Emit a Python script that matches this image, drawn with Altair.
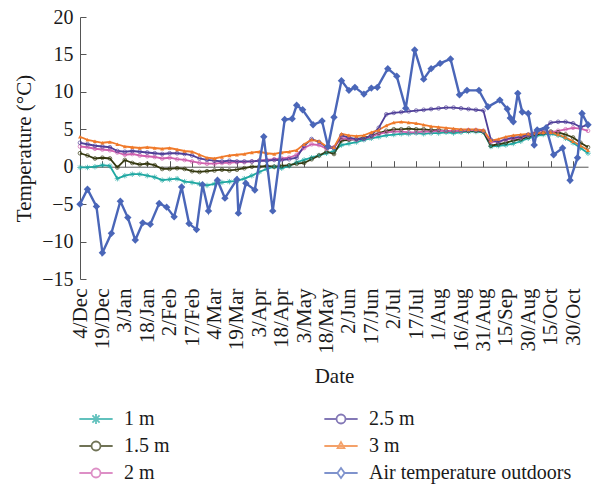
import json
import altair as alt
import pandas as pd

# ---------------- data ----------------
date_labels = ["4/Dec", "19/Dec", "3/Jan", "18/Jan", "2/Feb", "17/Feb", "4/Mar",
               "19/Mar", "3/Apr", "18/Apr", "3/May", "18/May", "2/Jun", "17/Jun",
               "2/Jul", "17/Jul", "1/Aug", "16/Aug", "31/Aug", "15/Sep", "30/Aug",
               "15/Oct", "30/Oct"]
label_days = [0, 15, 30, 45, 60, 75, 90, 105, 120, 135, 150, 165, 180, 195, 210,
              225, 240, 255, 270, 285, 300, 315, 330]
y_ticks = [-15, -10, -5, 0, 5, 10, 15, 20]

soil_days = [0, 5, 10, 15, 20, 25, 30, 35, 40, 45, 50, 55, 60, 65, 70, 75, 80, 85,
             90, 95, 100, 105, 110, 115, 120, 125, 130, 135, 140, 145, 150, 155,
             160, 165, 170, 175, 180, 185, 190, 195, 200, 205, 210, 215, 220, 225,
             230, 235, 240, 245, 250, 255, 260, 265, 270, 275, 280, 285, 290, 295,
             300, 305, 310, 315, 320, 325, 330, 335, 340]

t_1m = [-0.1, -0.1, 0.0, 0.2, 0.1, -1.6, -1.2, -1.0, -1.0, -1.2,
        -1.4, -1.8, -1.7, -1.6, -2.0, -2.1, -2.3, -2.5, -2.3, -2.1,
        -2.0, -1.9, -1.6, -1.2, -0.7, -0.3, 0.0, -0.2, 0.1, 0.6,
        0.9, 1.2, 1.5, 1.8, 2.1, 2.9, 3.1, 3.3, 3.6, 3.8,
        4.0, 4.2, 4.3, 4.4, 4.4, 4.5, 4.4, 4.5, 4.5, 4.6,
        4.5, 4.6, 4.7, 4.7, 4.6, 2.7, 2.8, 2.9, 3.1, 3.4,
        3.8, 4.1, 4.3, 4.4, 4.2, 3.8, 3.2, 2.5, 1.8]
t_15m = [1.8, 1.5, 1.1, 1.2, 1.1, -0.1, 0.9, 0.5, 0.3, 0.4,
         0.2, -0.3, -0.3, -0.2, -0.3, -0.6, -0.7, -0.6, -0.5, -0.4,
         -0.5, -0.4, -0.2, 0.0, 0.0, 0.1, 0.0, 0.1, 0.2, 0.4,
         0.5, 1.0, 1.5, 2.0, 1.7, 3.5, 3.6, 3.7, 3.9, 4.1,
         4.5, 4.8, 5.0, 5.0, 5.1, 5.0, 5.0, 4.9, 4.9, 4.8,
         4.8, 4.8, 4.8, 4.8, 4.7, 2.8, 3.0, 3.2, 3.5, 3.7,
         4.0, 4.3, 4.5, 4.7, 4.6, 4.3, 3.9, 3.2, 2.6]
t_2m = [2.7, 2.6, 2.4, 2.3, 2.2, 1.9, 1.6, 1.7, 1.5, 1.4,
        1.3, 1.1, 1.2, 1.0, 0.9, 0.7, 0.5, 0.4, 0.4, 0.5,
        0.5, 0.6, 0.6, 0.7, 0.8, 0.9, 1.0, 1.1, 1.2, 1.6,
        2.5, 3.0, 2.9, 2.4, 2.6, 3.8, 3.7, 3.6, 3.8, 4.0,
        4.4, 4.6, 4.7, 4.7, 4.6, 4.6, 4.7, 4.7, 4.8, 4.8,
        4.8, 4.8, 4.9, 4.9, 4.8, 3.3, 3.4, 3.6, 3.8, 3.9,
        4.2, 4.5, 4.6, 4.6, 4.8, 5.0, 5.2, 5.1, 4.8]
t_25m = [3.2, 3.0, 2.8, 2.7, 2.6, 2.1, 2.0, 2.1, 2.0, 1.9,
         1.8, 1.7, 1.8, 1.8, 1.7, 1.5, 1.1, 0.9, 0.8, 0.7,
         0.8, 0.7, 0.7, 0.7, 0.8, 0.8, 0.9, 0.9, 1.0, 1.2,
         2.8, 3.7, 3.3, 2.6, 2.5, 4.2, 3.9, 3.7, 3.7, 4.2,
         5.2, 7.0, 7.2, 7.3, 7.4, 7.5, 7.6, 7.7, 7.8, 7.9,
         7.9, 7.8, 7.7, 7.6, 7.5, 3.6, 3.3, 3.7, 3.9, 4.0,
         4.3, 4.6, 5.0, 5.9, 6.0, 6.0, 5.8, 5.3, 5.6]
t_3m = [4.0, 3.6, 3.4, 3.2, 3.3, 3.0, 2.7, 2.6, 2.5, 2.6,
        2.5, 2.4, 2.5, 2.3, 2.1, 2.0, 1.6, 1.2, 1.1, 1.3,
        1.5, 1.6, 1.7, 1.9, 2.0, 1.8, 1.7, 1.9, 2.0, 2.2,
        3.0, 3.6, 3.4, 2.7, 2.6, 4.4, 4.2, 4.1, 4.2, 4.6,
        4.9, 5.5, 5.9, 6.0, 5.9, 5.8, 5.6, 5.4, 5.3, 5.2,
        5.1, 5.0, 5.0, 5.0, 4.9, 3.5, 3.7, 4.0, 4.2, 4.3,
        4.4, 4.5, 4.6, 4.6, 4.3, 3.9, 3.4, 2.8, 2.2]

air_days = [0, 5, 11, 15, 21, 27, 32, 37, 42, 47,
            53, 58, 63, 68, 73, 78, 82, 86, 92, 97,
            105, 106, 111, 117, 123, 129, 137, 142, 145, 149,
            156, 162, 166, 170, 175, 180, 184, 190, 195, 199,
            206, 212, 218, 224, 230, 235, 241, 248, 254, 259,
            267, 273, 281, 286, 288, 290, 293, 296, 300, 304,
            306, 312, 317, 323, 328, 333, 336, 340]
air_temp = [-5.0, -3.0, -5.3, -11.5, -8.9, -4.6, -6.8, -9.8, -7.5, -7.7,
            -4.9, -5.4, -6.7, -2.7, -7.6, -8.4, -2.4, -5.9, -1.8, -4.2,
            -1.7, -6.2, -2.2, -3.1, 4.0, -5.9, 6.3, 6.4, 8.2, 7.6,
            5.6, 6.1, 2.7, 6.6, 11.5, 10.2, 10.6, 9.7, 10.5, 10.6,
            13.1, 12.1, 7.8, 15.6, 11.7, 13.1, 13.8, 14.4, 9.6, 10.2,
            10.2, 8.0, 8.9, 7.7, 6.5, 6.0, 9.8, 7.3, 7.1, 2.9,
            4.9, 5.2, 1.6, 2.5, -1.8, 1.2, 7.1, 5.6]

AIR = "Air temperature outdoors"
series_names = ["1 m", "1.5 m", "2 m", "2.5 m", "3 m", AIR]
series_colors = ["#1fa8a2", "#34380f", "#d060ae", "#4f3f98", "#f07a2a", "#4a66b8"]
soil_series = series_names[:5]
soil_values = [t_1m, t_15m, t_2m, t_25m, t_3m]

rows = []
for name, vals in zip(soil_series, soil_values):
    for d, v in zip(soil_days, vals):
        rows.append({"day": d, "value": v, "series": name})
for d, v in zip(air_days, air_temp):
    rows.append({"day": d, "value": v, "series": AIR})
df = pd.DataFrame(rows)

# ---------------- styling ----------------
FONT = "Liberation Serif"
W, H = 508, 262
Y0_OFFSET = -H * 20 / 35  # pixel distance of y = 0 from the top

AST_SMALL = "M-1,0H1M0,-1V1M-0.7,-0.7L0.7,0.7M-0.7,0.7L0.7,-0.7"
LEG_AST = "M-3.7,0H3.7M0,-1.1V1.1M-0.8,-0.8L0.8,0.8M-0.8,0.8L0.8,-0.8"
LEG_CIRC = "M-3.7,0H-1M1,0H3.7M-1,0A1,1 0 1,0 1,0A1,1 0 1,0 -1,0"
LEG_TRI = "M-3.7,0H3.7M0,-0.85L0.75,0.45L-0.75,0.45Z"
LEG_DIA = "M-3.7,0H-0.8M0.8,0H3.7M-0.8,0L0,-1.1L0.8,0L0,1.1Z"
legend_shapes = [LEG_AST, LEG_CIRC, LEG_CIRC, LEG_CIRC, LEG_TRI, LEG_DIA]

xscale = alt.Scale(domain=[0, 340], nice=False, zero=False)
yscale = alt.Scale(domain=[-15, 20], nice=False, zero=False)
# plot-mark colour scale (listed in reverse so it stays apart from the legend scale)
pscale = alt.Scale(domain=series_names[::-1], range=series_colors[::-1])
# legend scales: natural order, laid out column-major over 2 columns
lscale = alt.Scale(domain=series_names, range=series_colors)
sscale = alt.Scale(domain=series_names, range=legend_shapes)

label_expr = json.dumps(date_labels) + "[round(datum.value / 15)]"

x_bottom = alt.Axis(values=label_days, labelExpr=label_expr, labelAngle=-90,
                    ticks=False, tickSize=0, domain=False, grid=False,
                    labelPadding=9, labelFontSize=21, labelOverlap=False,
                    labelFlush=False, title="Date", titleFontSize=21,
                    titleFontWeight="normal", titlePadding=12)
y_left = alt.Axis(values=y_ticks, ticks=False, tickSize=0, domain=True,
                  grid=False, labelPadding=7, labelFontSize=20,
                  title="Temperature (°C)", titleFontSize=21,
                  titleFontWeight="normal", titlePadding=7)
x_top = alt.Axis(orient="top", offset=Y0_OFFSET, values=label_days, labels=False,
                 ticks=True, tickSize=6, domain=True, grid=False, title=None)
y_right = alt.Axis(orient="right", offset=-W, values=y_ticks, labels=False,
                   ticks=True, tickSize=6, domain=False, grid=False, title=None)

no_x = alt.X("day:Q", scale=xscale, axis=None)
no_y = alt.Y("value:Q", scale=yscale, axis=None)
stk = alt.Stroke("series:N", scale=pscale, legend=None)
fil = alt.Fill("series:N", scale=pscale, legend=None)

base = alt.Chart(df)

soil_lines = base.transform_filter(
    alt.FieldOneOfPredicate(field="series", oneOf=soil_series)
).mark_line(strokeWidth=1.8).encode(
    x=alt.X("day:Q", scale=xscale, axis=x_bottom),
    y=alt.Y("value:Q", scale=yscale, axis=y_left),
    stroke=stk,
)

ast_pts = base.transform_filter(alt.datum.series == "1 m").mark_point(
    shape=AST_SMALL, size=30, filled=False, strokeWidth=1
).encode(x=no_x, y=no_y, stroke=stk)

circ_pts = base.transform_filter(
    alt.FieldOneOfPredicate(field="series", oneOf=["1.5 m", "2 m", "2.5 m"])
).mark_point(shape="circle", size=14, filled=False, strokeWidth=1).encode(
    x=no_x, y=no_y, stroke=stk)

tri_pts = base.transform_filter(alt.datum.series == "3 m").mark_point(
    shape="triangle-up", size=16, filled=True, opacity=1
).encode(x=no_x, y=no_y, fill=fil)

air_line = base.transform_filter(alt.datum.series == AIR).mark_line(
    strokeWidth=2.4).encode(x=no_x, y=no_y, stroke=stk)

air_pts = base.transform_filter(alt.datum.series == AIR).mark_point(
    shape="diamond", size=55, filled=True, opacity=1
).encode(
    x=alt.X("day:Q", scale=xscale, axis=x_top),
    y=alt.Y("value:Q", scale=yscale, axis=y_right),
    fill=fil,
)

leg = alt.Legend(title=None, orient="none", legendX=6, legendY=392, columns=2,
                 columnPadding=150, rowPadding=7, symbolSize=81,
                 symbolStrokeWidth=1.8, labelFontSize=20, labelOffset=18,
                 labelLimit=320, padding=0, labelFont=FONT, labelColor="#1a1a1a")

legend_layer = base.transform_filter("datum.day < -1000").mark_point(
    filled=False, strokeWidth=1.8
).encode(
    x=no_x, y=no_y,
    color=alt.Color("series:N", scale=lscale, legend=leg),
    shape=alt.Shape("series:N", scale=sscale, legend=leg),
)

chart = alt.layer(
    soil_lines, ast_pts, circ_pts, tri_pts, air_line, air_pts, legend_layer
).resolve_axis(
    x="independent", y="independent"
).properties(
    width=W, height=H,
    autosize=alt.AutoSizeParams(type="none"),
    padding={"left": 80, "top": 17, "right": 17, "bottom": 210},
).configure(
    font=FONT
).configure_axis(
    labelFont=FONT, titleFont=FONT, labelColor="#1a1a1a", titleColor="#1a1a1a",
    domainColor="#555555", tickColor="#555555"
).configure_view(stroke=None)

chart.save("out.html", embed_options={"renderer": "svg", "actions": False})
